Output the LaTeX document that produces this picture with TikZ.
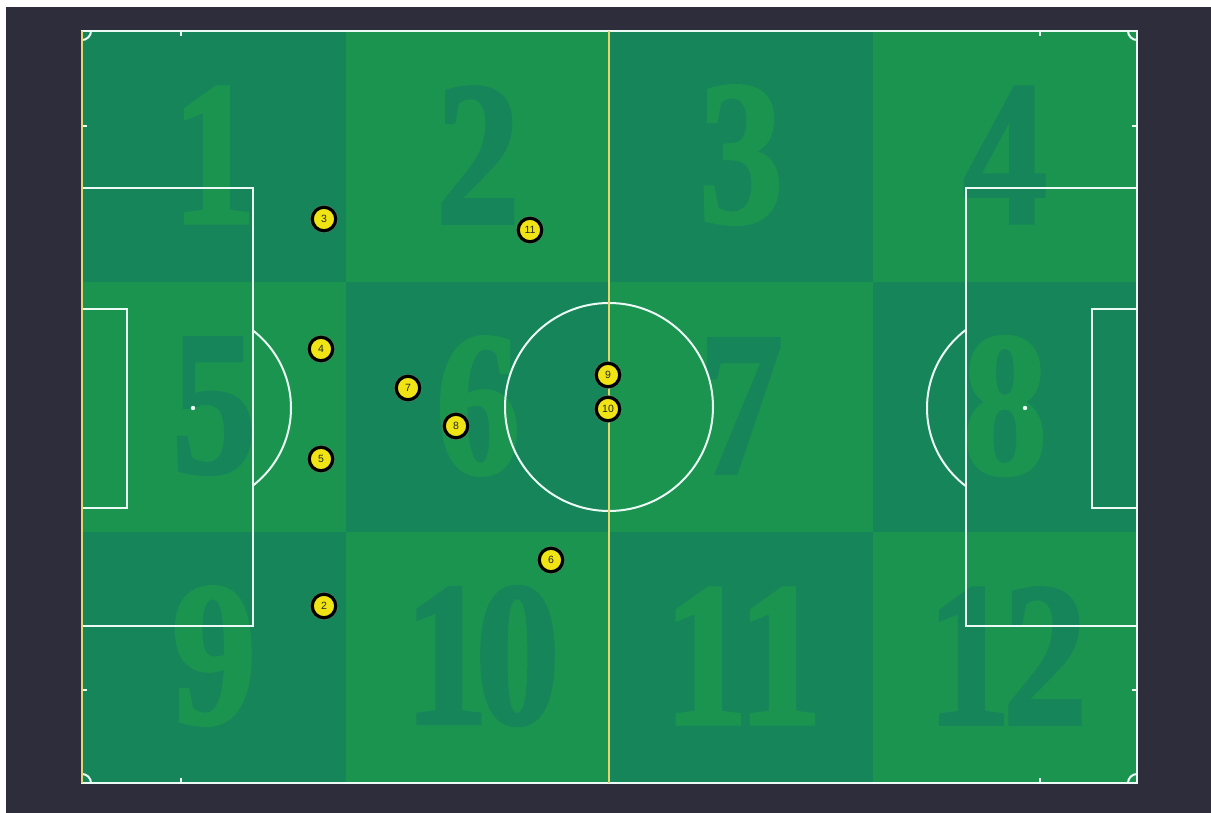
\documentclass[tikz,border=0pt]{standalone}
\usepackage{fontspec}
\setmainfont{Liberation Sans}
\newfontfamily\digitfont[FakeBold=2]{Liberation Serif}
\usetikzlibrary{shadows}
\definecolor{bgdark}{RGB}{46,45,59}
\definecolor{zdark}{RGB}{22,134,90}
\definecolor{zlight}{RGB}{27,148,80}
\definecolor{fline}{RGB}{236,250,245}
\definecolor{yline}{RGB}{228,214,110}
\definecolor{pyellow}{RGB}{240,228,20}
\tikzset{
  bigdigit/.style={xscale=0.82, inner sep=0pt, font=\fontsize{205}{205}\selectfont\bfseries\digitfont},
  digitondark/.style={bigdigit, text=zlight},
  digitonlight/.style={bigdigit, text=zdark},
  pitchline/.style={draw=fline, line width=2pt},
  player/.style={circle, fill=pyellow, draw=black, line width=3.2pt, minimum size=23.5pt, inner sep=0pt,
    font=\fontsize{10.5}{10.5}\selectfont, text=black!85,
    drop shadow={shadow xshift=0pt, shadow yshift=0pt, shadow scale=1.18, opacity=0.55}}
}
\begin{document}
\begin{tikzpicture}[x=1pt,y=-1pt]
\useasboundingbox (0,0) rectangle (1211,813);
\fill[white] (0,0) rectangle (1211,813);
\fill[bgdark] (6,7) rectangle (1211,813);
% zones
\foreach \c/\r/\s in {0/0/zdark,1/0/zlight,2/0/zdark,3/0/zlight,
                      0/1/zlight,1/1/zdark,2/1/zlight,3/1/zdark,
                      0/2/zdark,1/2/zlight,2/2/zdark,3/2/zlight}{
  \fill[\s] ({82+\c*263.75},{31+\r*250.67}) rectangle ({82+(\c+1)*263.75},{31+(\r+1)*250.67});
}
% big digits
\node[digitondark] (d1) at (214,155) {1};
\node[digitonlight] (d2) at (478,155) {2};
\node[digitondark] (d3) at (741,155) {3};
\node[digitonlight] (d4) at (1005,155) {4};
\node[digitonlight] (d5) at (214,406) {5};
\node[digitondark] (d6) at (478,406) {6};
\node[digitonlight] (d7) at (741,406) {7};
\node[digitondark] (d8) at (1005,406) {8};
\node[digitondark] (d9) at (214,656) {9};
\node[digitonlight] (d10) at (482,656) {1\kern-16pt0};
\node[digitondark] (d11) at (743,656) {1\kern-12pt1};
\node[digitonlight] (d12) at (1007,656) {1\kern-10pt2};
% pitch lines
\draw[pitchline] (82,31) rectangle (1137,783);
\draw[pitchline] (82,188) -- (253,188) -- (253,626) -- (82,626);
\draw[pitchline] (82,309) -- (127,309) -- (127,508) -- (82,508);
\draw[pitchline] (1137,188) -- (966,188) -- (966,626) -- (1137,626);
\draw[pitchline] (1137,309) -- (1092,309) -- (1092,508) -- (1137,508);
\draw[pitchline] (609,407) circle (104);
% penalty arcs
\begin{scope}
  \clip (253,31) rectangle (400,783);
  \draw[pitchline] (193,408) circle (98);
\end{scope}
\begin{scope}
  \clip (820,31) rectangle (966,783);
  \draw[pitchline] (1025,408) circle (98);
\end{scope}
\fill[fline] (193,408) circle (2.2);
\fill[fline] (1025,408) circle (2.2);
% corner arcs
\begin{scope}
  \clip (82,31) rectangle (1137,783);
  \draw[pitchline] (82,31) circle (9);
  \draw[pitchline] (1137,31) circle (9);
  \draw[pitchline] (82,783) circle (9);
  \draw[pitchline] (1137,783) circle (9);
\end{scope}
% tick marks
\draw[pitchline, line width=1.2pt] (181,31) -- (181,36) (1040,31) -- (1040,36)
  (181,783) -- (181,778) (1040,783) -- (1040,778)
  (82,126) -- (87,126) (82,690) -- (87,690)
  (1137,126) -- (1132,126) (1137,690) -- (1132,690);
% yellow lines
\draw[yline, line width=2pt] (82,31) -- (82,783);
\draw[yline, line width=2pt] (609,31) -- (609,783);
% players
\node[player] (p3) at (324,219) {3};
\node[player] (p11) at (530,230) {11};
\node[player] (p4) at (321,349) {4};
\node[player] (p7) at (408,388) {7};
\node[player] (p8) at (456,426) {8};
\node[player] (p5) at (321,459) {5};
\node[player] (p9) at (608,375) {9};
\node[player] (p10) at (608,409) {10};
\node[player] (p6) at (551,560) {6};
\node[player] (p2) at (324,606) {2};
\end{tikzpicture}
\end{document}
